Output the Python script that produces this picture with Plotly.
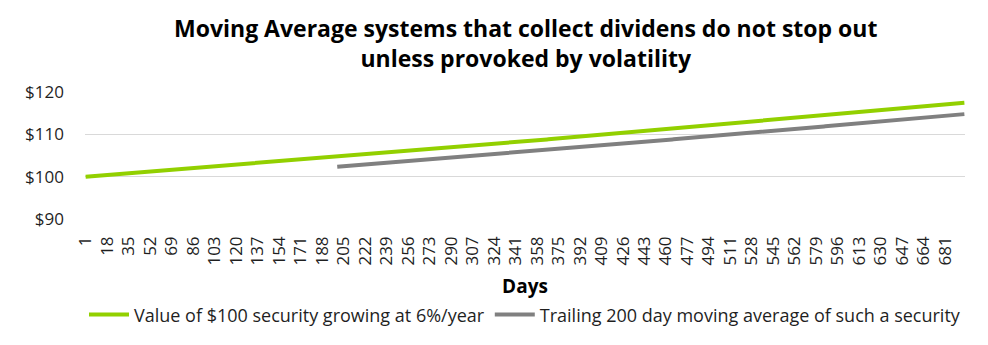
import numpy as np
import plotly.graph_objects as go

# Series definition: a $100 security compounding at 6% per year (252 trading days)
START_VALUE = 100.0
ANNUAL_GROWTH = 0.06
TRADING_DAYS_PER_YEAR = 252
N_DAYS = 696
MA_WINDOW = 200

days = np.arange(1, N_DAYS + 1)
security_value = START_VALUE * (1 + ANNUAL_GROWTH) ** ((days - 1) / TRADING_DAYS_PER_YEAR)

# Trailing moving average, defined once a full window is available
cums = np.cumsum(np.insert(security_value, 0, 0.0))
ma_days = days[MA_WINDOW - 1:]
moving_avg = (cums[MA_WINDOW:] - cums[:-MA_WINDOW]) / MA_WINDOW

x_ticks = list(range(1, N_DAYS + 1, 17))
y_ticks = [90, 100, 110, 120]
y_tick_text = ["$90", "$100", "$110", "$120"]

title_text = ("Moving Average systems that collect dividens do not stop out<br>"
              "unless provoked by volatility")
series_names = ["Value of $100 security growing at 6%/year",
                "Trailing 200 day moving average of such a security"]

FONT = "'Open Sans', Lato, sans-serif"
GREEN = "#92D000"
GREY = "#808080"
TEXT = "#1f1f1f"

fig = go.Figure()
fig.add_trace(go.Scatter(x=days, y=security_value, mode="lines",
                         name=series_names[0],
                         line=dict(color=GREEN, width=4)))
fig.add_trace(go.Scatter(x=ma_days, y=moving_avg, mode="lines",
                         name=series_names[1],
                         line=dict(color=GREY, width=4)))

fig.add_annotation(text="<b>" + title_text + "</b>", xref="paper", yref="paper",
                   x=0.5, xanchor="center", y=1.385, yanchor="middle",
                   showarrow=False, align="center",
                   font=dict(family=FONT, size=23, color="#000000"))

fig.update_layout(
    width=988, height=345,
    margin=dict(l=85, r=23, t=92, b=126, autoexpand=False),
    paper_bgcolor="white", plot_bgcolor="white",
    font=dict(family=FONT, color=TEXT),
    showlegend=True,
    legend=dict(orientation="h", x=0.5, xanchor="center", y=-0.755, yanchor="middle",
                font=dict(family=FONT, size=18, color=TEXT),
                itemwidth=40, tracegroupgap=0, bgcolor="rgba(0,0,0,0)"),
    xaxis=dict(range=[0.5, N_DAYS + 0.5], tickmode="array", tickvals=x_ticks,
               ticktext=[str(t) for t in x_ticks], tickangle=-90,
               tickfont=dict(family=FONT, size=17, color=TEXT),
               showgrid=False, zeroline=False, showline=False, ticks="",
               ticklabelstandoff=13,
               title=dict(text="<b>Days</b>", standoff=15,
                          font=dict(family=FONT, size=19, color="#000000"))),
    yaxis=dict(range=[90, 120], tickmode="array", tickvals=y_ticks, ticktext=y_tick_text,
               tickfont=dict(family=FONT, size=17, color=TEXT),
               showgrid=True, gridcolor="#D9D9D9", gridwidth=1,
               zeroline=False, showline=False, ticks="", ticklabelstandoff=20),
)

fig.write_html("out.html")
